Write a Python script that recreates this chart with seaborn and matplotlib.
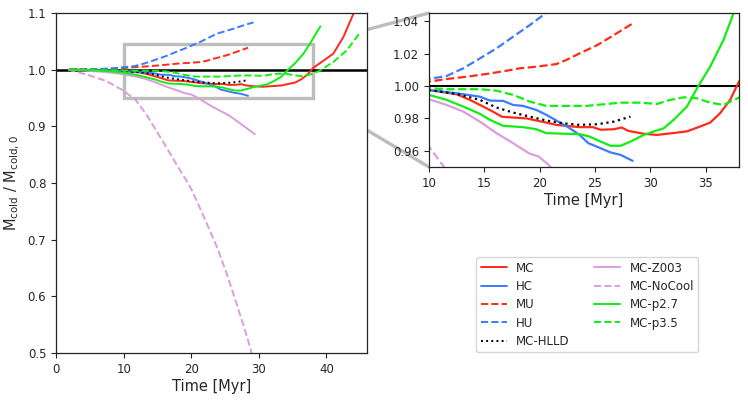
import numpy as np
import pandas as pd
import matplotlib
matplotlib.use("Agg")
import matplotlib.pyplot as plt
from matplotlib.patches import Rectangle, ConnectionPatch
import seaborn as sns

# ---- data ----
mc_t = [2, 5, 8, 10, 12.5, 13.7, 15.5, 16.6, 18.8, 20.6, 21.5, 23.6, 24.8, 25.5, 26.7, 27.4, 28, 29.4, 30.6,
        32, 33.3, 34.5, 35.4, 36.3, 37.2, 38, 41, 42.5, 44, 45.5]
mc_v = [1.0, 0.9995, 0.9985, 0.9975, 0.9949, 0.9914, 0.9852, 0.981, 0.980, 0.9774, 0.976, 0.9746, 0.9746, 0.973,
        0.9733, 0.9744, 0.9723, 0.9705, 0.9698, 0.9709, 0.972, 0.975, 0.9774, 0.9832, 0.9914, 1.0027, 1.028,
        1.0575, 1.099, 1.13]

hc_t = [2, 5, 8, 10, 12.5, 14.6, 15.5, 16.7, 17.6, 18.5, 19.7, 20.6, 21.5, 22.7, 23.6, 24.4, 25.5, 26.4, 27.3, 28.4]
hc_v = [1.0, 0.9995, 0.9985, 0.9975, 0.9955, 0.9934, 0.991, 0.9908, 0.9883, 0.9877, 0.9852, 0.9822, 0.9787, 0.974,
        0.9698, 0.9647, 0.9616, 0.959, 0.9575, 0.9538]

mu_t = [2, 5, 8, 10, 11.6, 13.4, 15.2, 17, 18.2, 19.7, 21.5, 22.4, 23.6, 25.2, 26.7, 28.4]
mu_v = [1.0, 1.0005, 1.0015, 1.0027, 1.0043, 1.0057, 1.0074, 1.0094, 1.0109, 1.0119, 1.0135, 1.016, 1.0201,
        1.0252, 1.0314, 1.0386]

hu_t = [2, 5, 8, 10, 11.6, 13.1, 14.6, 16.1, 17.6, 19.1, 20.5, 21.3, 23.8, 26.2, 27.7, 29.2]
hu_v = [1.0, 1.0007, 1.002, 1.0043, 1.0062, 1.0109, 1.017, 1.0232, 1.0304, 1.0375, 1.0447, 1.0487, 1.0635,
        1.072, 1.078, 1.0834]

hlld_t = [2, 5, 8, 10, 12.5, 14.6, 16.1, 17.6, 19.1, 20.6, 22.1, 23.6, 25.2, 26.7, 28.2]
hlld_v = [1.0, 0.9995, 0.9985, 0.9975, 0.9951, 0.9914, 0.9867, 0.9836, 0.9811, 0.9787, 0.977, 0.976, 0.9764,
          0.978, 0.9811]

z003_t = [2, 7.4, 10, 11.6, 13.1, 14.6, 16.1, 17.6, 19.1, 19.9, 20.7, 23.2, 25.6, 27.6, 29.4]
z003_v = [1.0, 0.9958, 0.9918, 0.9883, 0.9842, 0.978, 0.9709, 0.9647, 0.9582, 0.9565, 0.952, 0.934, 0.919,
          0.902, 0.886]

nocool_t = [1.8, 4.9, 7.4, 9.9, 11.8, 13.3, 14.8, 16.3, 17.75, 19.2, 20.1, 21.8, 23.8, 25.25, 26.7, 27.96, 28.8,
            29.1]
nocool_v = [1.0, 0.990, 0.980, 0.9635, 0.946, 0.922, 0.893, 0.8635, 0.834, 0.806, 0.787, 0.742, 0.687, 0.640,
            0.587, 0.540, 0.506, 0.49]

p27_t = [2, 5, 8, 10, 11.6, 13.1, 14.6, 15.5, 16.7, 18.5, 19.7, 20.6, 22.4, 23.6, 24.5, 25.5, 26.4, 27.3, 28.2,
         29.4, 30.3, 31.2, 32.1, 33.3, 34.3, 35.4, 36.6, 37.5, 39.1]
p27_v = [1.0, 0.999, 0.997, 0.9945, 0.9914, 0.9873, 0.9828, 0.9791, 0.9754, 0.9746, 0.9733, 0.9709, 0.9705,
         0.9703, 0.9688, 0.9657, 0.9631, 0.9631, 0.9657, 0.9698, 0.9719, 0.9739, 0.9791, 0.9873, 0.9996, 1.0119,
         1.0283, 1.0447, 1.0764]

p35_t = [2, 5, 8, 10, 11.6, 14.6, 16.1, 17.6, 19.1, 20.6, 22.1, 24.2, 26.1, 27.3, 29.1, 30.6, 31.8, 33.0, 34.2,
         35.4, 36.6, 38.0, 39.1, 41, 43, 45]
p35_v = [1.0, 0.9995, 0.999, 0.9986, 0.998, 0.998, 0.9971, 0.9945, 0.9904, 0.9877, 0.9877, 0.9877, 0.9889,
         0.9897, 0.9897, 0.9889, 0.9914, 0.993, 0.9924, 0.9897, 0.9883, 0.9928, 0.9988, 1.0134, 1.034, 1.066]

series = [
    ("MC", mc_t, mc_v, "#ff2a1a", "-"),
    ("HC", hc_t, hc_v, "#3b7bff", "-"),
    ("MU", mu_t, mu_v, "#ff2a1a", "--"),
    ("HU", hu_t, hu_v, "#3b7bff", "--"),
    ("MC-HLLD", hlld_t, hlld_v, "black", ":"),
    ("MC-Z003", z003_t, z003_v, "#dd9ddd", "-"),
    ("MC-NoCool", nocool_t, nocool_v, "#dd9ddd", "--"),
    ("MC-p2.7", p27_t, p27_v, "#11ee11", "-"),
    ("MC-p3.5", p35_t, p35_v, "#11ee11", "--"),
]

sns.set_style("ticks", {"xtick.direction": "out", "ytick.direction": "out"})
plt.rcParams.update({
    "font.family": ["DejaVu Sans"],
    "xtick.major.size": 3.5, "ytick.major.size": 3.5,
    "xtick.labelsize": 8.5, "ytick.labelsize": 8.5,
    "axes.labelsize": 10.5,
    "axes.edgecolor": "#222222",
    "axes.linewidth": 0.9,
})

fig = plt.figure(figsize=(7.48, 4.01), dpi=100)
ax = fig.add_axes([0.0749, 0.1197, 0.4158, 0.848])
axi = fig.add_axes([0.5735, 0.5835, 0.4144, 0.384])

for a, lw in ((ax, 1.4), (axi, 1.6)):
    for name, t, v, c, ls in series:
        df = pd.DataFrame({"t": t, "v": v})
        sns.lineplot(data=df, x="t", y="v", ax=a, color=c, linestyle=ls, lw=lw,
                     label=name, sort=False, estimator=None, legend=False)
    a.axhline(1.0, color="black", lw=1.8 if a is ax else 1.5, zorder=1)

ax.set_xlim(0, 46)
ax.set_ylim(0.5, 1.1)
ax.set_xticks([0, 10, 20, 30, 40])
ax.set_yticks([0.5, 0.6, 0.7, 0.8, 0.9, 1.0, 1.1])
ax.set_xlabel("Time [Myr]", labelpad=2)
ax.set_ylabel(r"$\mathrm{M_{cold}\ /\ M_{cold,0}}$", labelpad=4)

x0, x1, y0, y1 = 10, 38, 0.95, 1.045
axi.set_xlim(x0, x1)
axi.set_ylim(y0, y1)
axi.set_xticks([10, 15, 20, 25, 30, 35])
axi.set_yticks([0.96, 0.98, 1.00, 1.02, 1.04])
axi.set_yticklabels(["0.96", "0.98", "1.00", "1.02", "1.04"])
axi.set_xlabel("Time [Myr]", labelpad=2)
axi.set_ylabel("")

gray = "#bdbdbd"
ax.add_patch(Rectangle((x0, y0), x1 - x0, y1 - y0, fill=False, ec=gray, lw=2.4, zorder=0.5))
for (xa, ya), (xb, yb) in [((x1, y1), (0, 1)), ((x1, y0), (0, 0))]:
    cp = ConnectionPatch(xyA=(xa, ya), coordsA=ax.transData, xyB=(xb, yb), coordsB=axi.transAxes,
                         color=gray, lw=2.4, zorder=0)
    fig.add_artist(cp)

handles, labels = ax.get_legend_handles_labels()
leg = fig.legend(handles, labels, ncol=2, loc="upper left", bbox_to_anchor=(0.637, 0.358),
                 borderaxespad=0, fontsize=8.5, frameon=True, columnspacing=2.1, handlelength=2.2,
                 borderpad=0.35, labelspacing=0.45)
leg.get_frame().set_edgecolor("#cccccc")

fig.savefig("out.png", dpi=100)
